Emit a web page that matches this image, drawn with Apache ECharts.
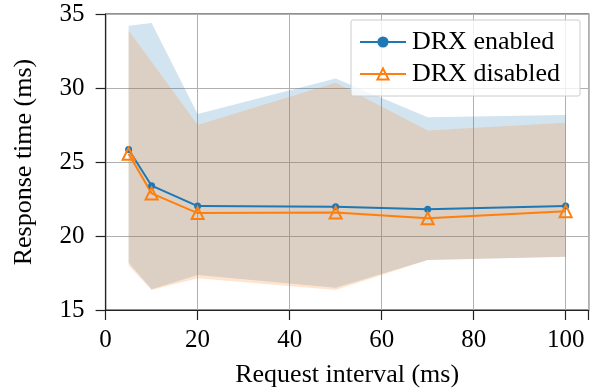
<!DOCTYPE html>
<html>
<head>
<meta charset="utf-8">
<script src="https://cdn.jsdelivr.net/npm/echarts@6/dist/echarts.min.js"></script>
<style>
  html, body { margin: 0; padding: 0; background: #fff; }
  #chart { width: 595px; height: 391px; }
</style>
</head>
<body>
<div id="chart"></div>
<script>
// request intervals (ms)
const intervals = [5, 10, 20, 50, 70, 100]

// mean response time
const enabledMean = [25.85, 23.4, 22.02, 21.98, 21.8, 22.03]
const disabledMean = [25.55, 22.88, 21.55, 21.58, 21.2, 21.68]

// spread (min / max)
const enabledLow = [18.2, 16.4, 17.36, 16.5, 18.38, 18.6]
const enabledHigh = [34.2, 34.4, 28.24, 30.65, 28.02, 28.18]
const disabledLow = [18.0, 16.35, 17.14, 16.35, 18.38, 18.6]
const disabledHigh = [33.87, 31.77, 27.5, 30.36, 27.12, 27.66]

const xTicks = [0, 20, 40, 60, 80, 100]
const yTicks = [15, 20, 25, 30, 35]

const font = "'Liberation Serif', 'Times New Roman', serif"
const blue = '#1f77b4'
const orange = '#ff7f0e'

let myChart = echarts.init(document.getElementById('chart'))

// band between low and high drawn as one polygon
function bandSeries (name, low, high, color) {
    return {
        name: name,
        type: 'custom',
        silent: true,
        z: 1,
        data: intervals.map((x, i) => [x, low[i], high[i]]),
        encode: { x: 0, y: [1, 2] },
        renderItem: function (params, api) {
            if (params.dataIndex !== 0) return
            let pts = []
            for (let i = 0; i < intervals.length; i++) {
                pts.push(api.coord([intervals[i], high[i]]))
            }
            for (let i = intervals.length - 1; i >= 0; i--) {
                pts.push(api.coord([intervals[i], low[i]]))
            }
            return {
                type: 'polygon',
                shape: { points: pts },
                style: { fill: color, opacity: 0.2 }
            }
        }
    }
}

let option = {
    animation: false,
    textStyle: { fontFamily: font },
    grid: {
        left: 105.6,
        right: 6.3,
        top: 14,
        bottom: 81,
        containLabel: false,
        outerBoundsMode: 'none',
        show: true,
        borderColor: '#222',
        borderWidth: 1.2
    },
    legend: {
        data: ['DRX enabled', 'DRX disabled'],
        orient: 'vertical',
        left: 351,
        top: 20,
        padding: [9, 20, 9, 8],
        itemGap: 6,
        itemWidth: 46,
        itemHeight: 14,
        backgroundColor: 'rgba(255,255,255,0.8)',
        borderColor: '#cccccc',
        borderWidth: 1,
        borderRadius: 2,
        textStyle: { fontFamily: font, fontSize: 26, color: '#000', padding: [0, 0, 0, 1] }
    },
    xAxis: {
        type: 'value',
        min: 0,
        max: 105,
        interval: 20,
        name: 'Request interval (ms)',
        nameLocation: 'middle',
        nameGap: 52,
        nameTextStyle: { fontFamily: font, fontSize: 26, color: '#000' },
        axisLine: { lineStyle: { color: '#222', width: 1.2 } },
        axisTick: { length: 10, inside: false, lineStyle: { color: '#222', width: 1.2 } },
        axisLabel: {
            fontFamily: font, fontSize: 25, color: '#000', margin: 18,
            formatter: v => xTicks.includes(v) ? String(v) : ''
        },
        splitLine: { show: true, lineStyle: { color: '#b0b0b0', width: 1 } }
    },
    yAxis: {
        type: 'value',
        min: 15,
        max: 35,
        interval: 5,
        name: 'Response time (ms)',
        nameLocation: 'middle',
        nameGap: 68,
        nameTextStyle: { fontFamily: font, fontSize: 26, color: '#000' },
        axisLine: { show: true, lineStyle: { color: '#222', width: 1.2 } },
        axisTick: { show: true, length: 10, lineStyle: { color: '#222', width: 1.2 } },
        axisLabel: {
            fontFamily: font, fontSize: 25, color: '#000', margin: 21,
            formatter: v => yTicks.includes(v) ? String(v) : ''
        },
        splitLine: { show: true, lineStyle: { color: '#b0b0b0', width: 1 } }
    },
    series: [
        bandSeries('band enabled', enabledLow, enabledHigh, blue),
        bandSeries('band disabled', disabledLow, disabledHigh, orange),
        {
            name: 'DRX enabled',
            type: 'line',
            z: 3,
            data: intervals.map((x, i) => [x, enabledMean[i]]),
            symbol: 'circle',
            symbolSize: 7,
            lineStyle: { color: blue, width: 2 },
            itemStyle: { color: blue }
        },
        {
            name: 'DRX disabled',
            type: 'line',
            z: 3,
            data: intervals.map((x, i) => [x, disabledMean[i]]),
            symbol: 'triangle',
            symbolSize: 12,
            lineStyle: { color: orange, width: 2 },
            itemStyle: { color: 'rgba(0,0,0,0)', borderColor: orange, borderWidth: 2 }
        }
    ]
}

myChart.setOption(option)
</script>
</body>
</html>
